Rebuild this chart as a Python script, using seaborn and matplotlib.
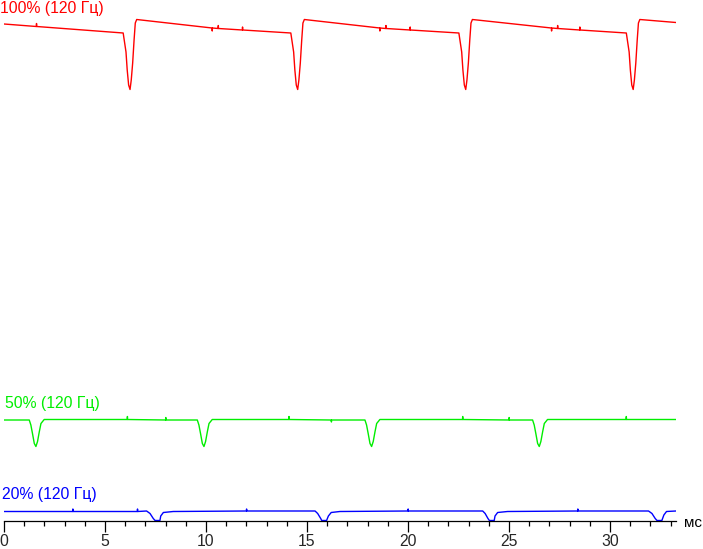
import seaborn as sns
import matplotlib.pyplot as plt
import pandas as pd
from matplotlib.ticker import MultipleLocator

# time in ms, level in arbitrary units (traces are stacked vertically)
red_t = [0.00, 1.60, 1.61, 1.62, 5.90, 6.04, 6.10, 6.17, 6.24, 6.30, 6.37, 6.44, 6.50, 6.57,
         10.30, 10.31, 10.32, 10.60, 10.61, 10.62, 11.80, 11.81, 11.82,
         14.20, 14.34, 14.40, 14.47, 14.54, 14.60, 14.67, 14.74, 14.80, 14.87,
         18.60, 18.61, 18.62, 18.90, 18.91, 18.92, 20.10, 20.11, 20.12,
         22.52, 22.66, 22.72, 22.79, 22.86, 22.92, 22.99, 23.06, 23.12, 23.19,
         27.10, 27.11, 27.12, 27.40, 27.41, 27.42, 28.50, 28.51, 28.52,
         30.81, 30.95, 31.01, 31.08, 31.15, 31.21, 31.28, 31.35, 31.41, 31.48,
         33.27]
red_v = [99.4, 98.9, 99.5, 98.9, 97.6, 93.8, 90.2, 87.2, 86.3, 88.2, 91.6, 96.2, 99.6, 100.3,
         98.6, 98.0, 98.6, 98.5, 99.1, 98.5, 98.2, 98.8, 98.2,
         97.6, 93.8, 90.2, 87.2, 86.3, 88.2, 91.6, 96.2, 99.6, 100.3,
         98.6, 98.0, 98.6, 98.5, 99.1, 98.5, 98.2, 98.8, 98.2,
         97.6, 93.8, 90.2, 87.2, 86.3, 88.2, 91.6, 96.2, 99.6, 100.3,
         98.6, 98.0, 98.6, 98.5, 99.1, 98.5, 98.2, 98.8, 98.2,
         97.6, 93.8, 90.2, 87.2, 86.3, 88.2, 91.6, 96.2, 99.6, 100.3,
         99.7]

green_t = [0.00, 1.25, 1.33, 1.41, 1.50, 1.58, 1.66, 1.75, 1.83, 1.99,
           6.10, 6.11, 6.12, 8.00, 8.01, 8.02,
           9.57, 9.65, 9.73, 9.82, 9.90, 9.98, 10.07, 10.15, 10.31,
           14.10, 14.11, 14.12, 16.20, 16.21, 16.22,
           17.87, 17.95, 18.03, 18.12, 18.20, 18.28, 18.37, 18.45, 18.61,
           22.70, 22.71, 22.72, 25.00, 25.01, 25.02,
           26.17, 26.25, 26.33, 26.42, 26.50, 26.58, 26.67, 26.75, 26.91,
           30.80, 30.81, 30.82, 33.27]
green_v = [20.2, 20.2, 19.2, 17.5, 15.5, 14.9, 15.9, 17.9, 19.5, 20.3,
           20.3, 20.9, 20.3, 20.2, 20.7, 20.2,
           20.2, 19.2, 17.5, 15.5, 14.9, 15.9, 17.9, 19.5, 20.3,
           20.3, 20.9, 20.3, 20.2, 19.8, 20.2,
           20.2, 19.2, 17.5, 15.5, 14.9, 15.9, 17.9, 19.5, 20.3,
           20.3, 20.9, 20.3, 20.2, 20.7, 20.2,
           20.2, 19.2, 17.5, 15.5, 14.9, 15.9, 17.9, 19.5, 20.3,
           20.3, 20.9, 20.3, 20.3]

blue_t = [0.00, 3.40, 3.41, 3.42, 6.60, 6.61, 6.62,
          7.06, 7.23, 7.39, 7.48, 7.72, 7.76, 7.89, 8.38,
          12.00, 12.01, 12.02,
          15.40, 15.53, 15.68, 15.73, 15.97, 16.06, 16.20, 16.63,
          20.00, 20.01, 20.02,
          23.70, 23.82, 23.96, 24.03, 24.27, 24.31, 24.44, 24.93,
          28.40, 28.41, 28.42,
          31.91, 32.08, 32.24, 32.33, 32.57, 32.67, 32.80, 33.27]
blue_v = [1.9, 1.9, 2.4, 1.9, 1.9, 2.4, 1.9,
          2.0, 1.5, 0.5, 0.1, 0.1, 1.0, 1.7, 1.9,
          2.0, 2.4, 2.0,
          2.0, 1.5, 0.5, 0.1, 0.1, 1.0, 1.7, 1.9,
          2.0, 2.4, 2.0,
          2.0, 1.5, 0.5, 0.1, 0.1, 1.0, 1.7, 1.9,
          2.0, 2.4, 2.0,
          2.0, 1.5, 0.5, 0.1, 0.1, 1.2, 1.9, 2.0]

labels = ["100% (120 Гц)", "50% (120 Гц)", "20% (120 Гц)"]
colors = ["#ff0000", "#00ee00", "#0000ff"]
# label anchor (pixels): left, baseline
label_px = [(0, 13), (5, 408), (2, 499)]

W, H = 703, 549
X_MAX = 33.27
Y_MAX = 104.2

sns.set_style("white")
plt.rcParams["font.family"] = ["Liberation Sans", "DejaVu Sans"]

fig = plt.figure(figsize=(W / 100, H / 100), dpi=100)
ax = fig.add_axes([4 / W, (H - 521) / H, 672 / W, 521 / H])

traces = [(red_t, red_v), (green_t, green_v), (blue_t, blue_v)]
for (t, v), col in zip(traces, colors):
    df = pd.DataFrame({"t": t, "v": v})
    sns.lineplot(data=df, x="t", y="v", color=col, linewidth=1.0,
                 sort=False, estimator=None, ax=ax)

ax.set_xlim(0, X_MAX)
ax.set_ylim(0, Y_MAX)
ax.set_xlabel("")
ax.set_ylabel("")
ax.set_yticks([])
for side in ["top", "right", "left"]:
    ax.spines[side].set_visible(False)
ax.spines["bottom"].set_color("black")
ax.spines["bottom"].set_linewidth(0.9)
ax.patch.set_alpha(0)

ax.xaxis.set_major_locator(MultipleLocator(5))
ax.xaxis.set_minor_locator(MultipleLocator(1))
ax.tick_params(axis="x", which="major", direction="out", length=8,
               width=0.9, color="black", labelsize=11.3, pad=1.2,
               bottom=True)
ax.tick_params(axis="x", which="minor", direction="out", length=3.8,
               width=0.9, color="black", bottom=True)

for txt, col, (px, py) in zip(labels, colors, label_px):
    fig.text(px / W, 1 - py / H, txt, color=col, fontsize=11.3,
             ha="left", va="baseline")

fig.text(684 / W, 1 - 527 / H, "мс", color="black", fontsize=11,
         ha="left", va="baseline")

fig.savefig("out.png", dpi=100)
plt.close(fig)
